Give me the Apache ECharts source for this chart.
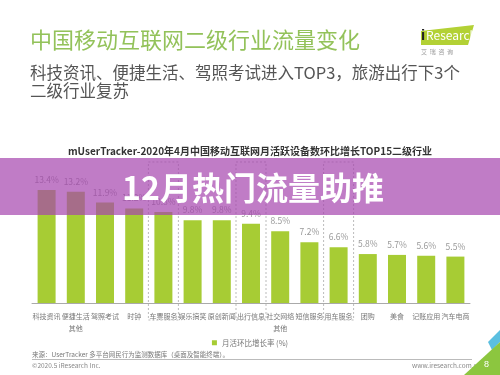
<!DOCTYPE html>
<html>
<head>
<meta charset="utf-8">
<script src="https://cdn.jsdelivr.net/npm/echarts@6/dist/echarts.min.js"></script>
<style>
  html, body { margin: 0; padding: 0; background: #fff; }
  #chart { width: 500px; height: 375px; }
</style>
</head>
<body>
<div id="chart"></div>
<script>
// 二级行业 (x轴)
var categories = ['科技资讯', '便捷生活\n其他', '驾照考试', '时钟', '车票服务', '娱乐搞笑', '原创新闻',
  '出行信息', '社交网络\n其他', '短信服务', '用车服务', '团购', '美食', '记账应用', '汽车电商'];
// 月活环比增长率 (%)
var growth = [13.4, 13.2, 11.9, 11.2, 10.8, 9.8, 9.8, 9.4, 8.5, 7.2, 6.6, 5.8, 5.7, 5.6, 5.5];
// 旅游出行相关的3个行业, 虚线框标出
var travelCats = ['车票服务', '出行信息', '用车服务'];

var seriesName = '月活环比增长率 (%)';
var font = '"Noto Sans CJK SC", "Microsoft YaHei", sans-serif';

var chart = echarts.init(document.getElementById('chart'));

var baseGraphic = [
  // 页面标题
  { type: 'text', left: 30, top: 29, style: { text: '中国移动互联网二级行业流量变化', fill: '#93c25a', font: '22px ' + font } },
  { type: 'text', left: 30, top: 64, style: { text: '科技资讯、便捷生活、驾照考试进入TOP3，旅游出行下3个\n二级行业复苏',
      fill: '#555', font: '16.5px ' + font, lineHeight: 18 } },
  // logo
  { type: 'polygon', shape: { points: [[421, 31], [474, 25], [468, 45], [421, 45]] }, style: { fill: '#b3d135' } },
  { type: 'text', left: 421, top: 28, style: { text: 'i', fill: '#222', font: 'bold 15px Arial' } },
  { type: 'text', left: 426, top: 29, style: { text: 'Research', fill: '#fff', font: '12px ' + font } },
  { type: 'text', left: 421, top: 49, style: { text: '艾  瑞  咨  询', fill: '#999', font: '6px ' + font } },
  // 图表标题
  { type: 'text', left: 'center', top: 146, style: { text: 'mUserTracker-2020年4月中国移动互联网月活跃设备数环比增长TOP15二级行业',
      fill: '#333', font: 'bold 10px ' + font } },
  // 底部来源
  { type: 'text', left: 32, top: 351, style: { text: '来源：UserTracker 多平台网民行为监测数据库（桌面及智能终端）。', fill: '#777', font: '6.5px ' + font } },
  { type: 'line', shape: { x1: 32, y1: 359.5, x2: 472, y2: 359.5 }, style: { stroke: '#bbb', lineWidth: 1 } },
  { type: 'text', left: 32, top: 362, style: { text: '©2020.5 iResearch Inc.', fill: '#888', font: '6.5px ' + font } },
  { type: 'text', left: 412, top: 362, style: { text: 'www.iresearch.com.cn', fill: '#888', font: '6.5px ' + font } },
  { type: 'polygon', shape: { points: [[488, 342], [500, 330], [500, 342], [492, 350]] }, style: { fill: '#5bbfe0' } },
  { type: 'polygon', shape: { points: [[464, 375], [500, 342], [500, 375]] }, style: { fill: '#8cc63f' } },
  { type: 'text', left: 484, top: 360, style: { text: '8', fill: '#fff', font: '9px Arial' } },
  // 紫色横幅
  { type: 'rect', z: 100, shape: { x: 0, y: 158, width: 500, height: 57 }, style: { fill: 'rgba(165,68,174,0.7)' } },
  { type: 'text', z: 101, x: 253, y: 188, style: { text: '12月热门流量助推', fill: '#fff', font: 'bold 32px ' + font,
      align: 'center', verticalAlign: 'middle' } }
];

chart.setOption({
  animation: false,
  grid: { left: 32, right: 30, top: 168, bottom: 72 },
  legend: {
    data: [seriesName], top: 334, left: 'center',
    icon: 'rect', itemWidth: 5, itemHeight: 5, itemGap: 4,
    textStyle: { fontSize: 7.5, color: '#777', fontFamily: font }
  },
  xAxis: {
    type: 'category', data: categories,
    axisLine: { lineStyle: { color: '#aaa' } },
    axisTick: { show: false },
    axisLabel: { interval: 0, fontSize: 7, color: '#777', margin: 7, lineHeight: 12, fontFamily: font }
  },
  yAxis: { type: 'value', min: 0, max: 16, show: false, splitLine: { show: false } },
  series: [{
    name: seriesName, type: 'bar', data: growth, barWidth: 18,
    itemStyle: { color: '#a7cc34' },
    label: { show: true, position: 'top', distance: 6, fontSize: 8.5, color: '#999', formatter: '{c}%', fontFamily: font }
  }],
  graphic: baseGraphic
});

// 虚线框: 用轴换算出类目位置
var boxes = travelCats.map(function (c) {
  var cx = chart.convertToPixel({ xAxisIndex: 0 }, c);
  return { type: 'rect', z: 5, shape: { x: cx - 15, y: 162, width: 30, height: 158 },
    style: { fill: 'none', stroke: '#bbb', lineWidth: 1, lineDash: [2, 2] } };
});
chart.setOption({ graphic: baseGraphic.concat(boxes) });
</script>
</body>
</html>
